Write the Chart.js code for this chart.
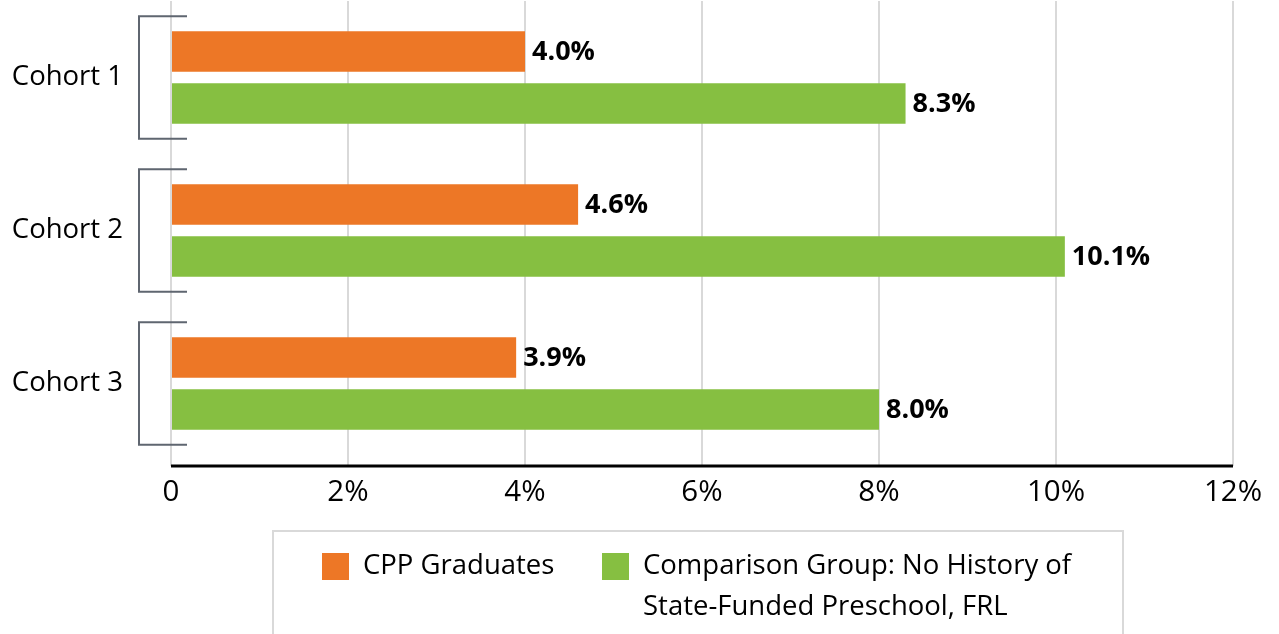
<!DOCTYPE html>
<html>
<head>
<meta charset="utf-8">
<script src="https://cdn.jsdelivr.net/npm/chart.js@4"></script>
<style>
  html, body { margin: 0; padding: 0; background: #fff; }
  #wrap { width: 1279px; height: 634px; }
</style>
</head>
<body>
<div id="wrap"><canvas id="myChart" width="1279" height="634"></canvas></div>
<script>
// data
var cohorts = ['Cohort 1', 'Cohort 2', 'Cohort 3'];
var cppGrads = [4.0, 4.6, 3.9];
var comparison = [8.3, 10.1, 8.0];
var seriesNames = ['CPP Graduates', ['Comparison Group: No History of', 'State-Funded Preschool, FRL']];
var tickValues = [0, 2, 4, 6, 8, 10, 12];

var orange = '#ED7726';
var green = '#86BF41';
var font = "'Open Sans', sans-serif";

// brackets, value labels, axis line and the boxed legend
var extras = {
  id: 'extras',
  afterDatasetsDraw: function(chart) {
    var ctx = chart.ctx;
    var area = chart.chartArea;
    var y = chart.scales.y;

    ctx.save();
    // black axis line under the gridlines
    ctx.strokeStyle = '#000';
    ctx.lineWidth = 3;
    ctx.beginPath();
    ctx.moveTo(area.left, area.bottom + 6);
    ctx.lineTo(area.right, area.bottom + 6);
    ctx.stroke();

    // brackets around each cohort
    ctx.strokeStyle = '#5F6670';
    ctx.lineWidth = 2;
    var half = (y.getPixelForValue(1) - y.getPixelForValue(0)) * 0.4;
    cohorts.forEach(function(c, i) {
      var cy = y.getPixelForValue(i);
      ctx.beginPath();
      ctx.moveTo(area.left + 16, cy - half);
      ctx.lineTo(area.left - 32, cy - half);
      ctx.lineTo(area.left - 32, cy + half);
      ctx.lineTo(area.left + 16, cy + half);
      ctx.stroke();
    });

    // value labels
    ctx.fillStyle = '#000';
    ctx.font = 'bold 27px ' + font;
    ctx.textBaseline = 'middle';
    ctx.textAlign = 'left';
    chart.data.datasets.forEach(function(ds, di) {
      chart.getDatasetMeta(di).data.forEach(function(bar, i) {
        ctx.fillText(ds.data[i].toFixed(1) + '%', bar.x + 7, bar.y + 1);
      });
    });

    // legend box
    ctx.strokeStyle = '#D9D9D9';
    ctx.lineWidth = 2;
    ctx.strokeRect(273, 531, 850, 120);
    ctx.font = '27.5px ' + font;
    var items = [
      { x: 322, color: orange, text: seriesNames[0] },
      { x: 602, color: green, text: seriesNames[1] }
    ];
    items.forEach(function(it) {
      ctx.fillStyle = it.color;
      ctx.fillRect(it.x, 553, 27, 27);
      ctx.fillStyle = '#000';
      var lines = Array.isArray(it.text) ? it.text : [it.text];
      lines.forEach(function(l, k) {
        ctx.fillText(l, it.x + 41, 566 + k * 41);
      });
    });
    ctx.restore();
  }
};

var ctx = document.getElementById('myChart').getContext('2d');
var chart = new Chart(ctx, {
  type: 'bar',
  data: {
    labels: cohorts,
    datasets: [{
      label: 'CPP Graduates',
      data: cppGrads,
      backgroundColor: orange
    }, {
      label: 'Comparison Group: No History of State-Funded Preschool, FRL',
      data: comparison,
      backgroundColor: green
    }]
  },
  options: {
    indexAxis: 'y',
    responsive: false,
    animation: false,
    categoryPercentage: 0.68,
    barPercentage: 0.78,
    layout: { padding: { top: 1, right: 46, left: 0, bottom: 0 } },
    plugins: {
      legend: { display: false },
      tooltip: { enabled: false }
    },
    scales: {
      x: {
        min: 0,
        max: 12,
        afterBuildTicks: function(s) {
          s.ticks = tickValues.map(function(v) { return { value: v }; });
        },
        afterFit: function(s) { s.height = 174; },
        grid: { color: '#D9D9D9', lineWidth: 2, tickLength: 6 },
        border: { display: false },
        ticks: {
          padding: 9,
          color: '#000',
          font: { family: font, size: 29.5 },
          callback: function(v) { return v === 0 ? '0' : v + '%'; }
        }
      },
      y: {
        afterFit: function(s) {
          s.width = 171;
          s.paddingTop = 0;
          s.paddingBottom = 0;
        },
        grid: { display: false },
        border: { display: false },
        ticks: {
          padding: 40,
          color: '#000',
          font: { family: font, size: 27.5 }
        }
      }
    }
  },
  plugins: [extras]
});
</script>
</body>
</html>
